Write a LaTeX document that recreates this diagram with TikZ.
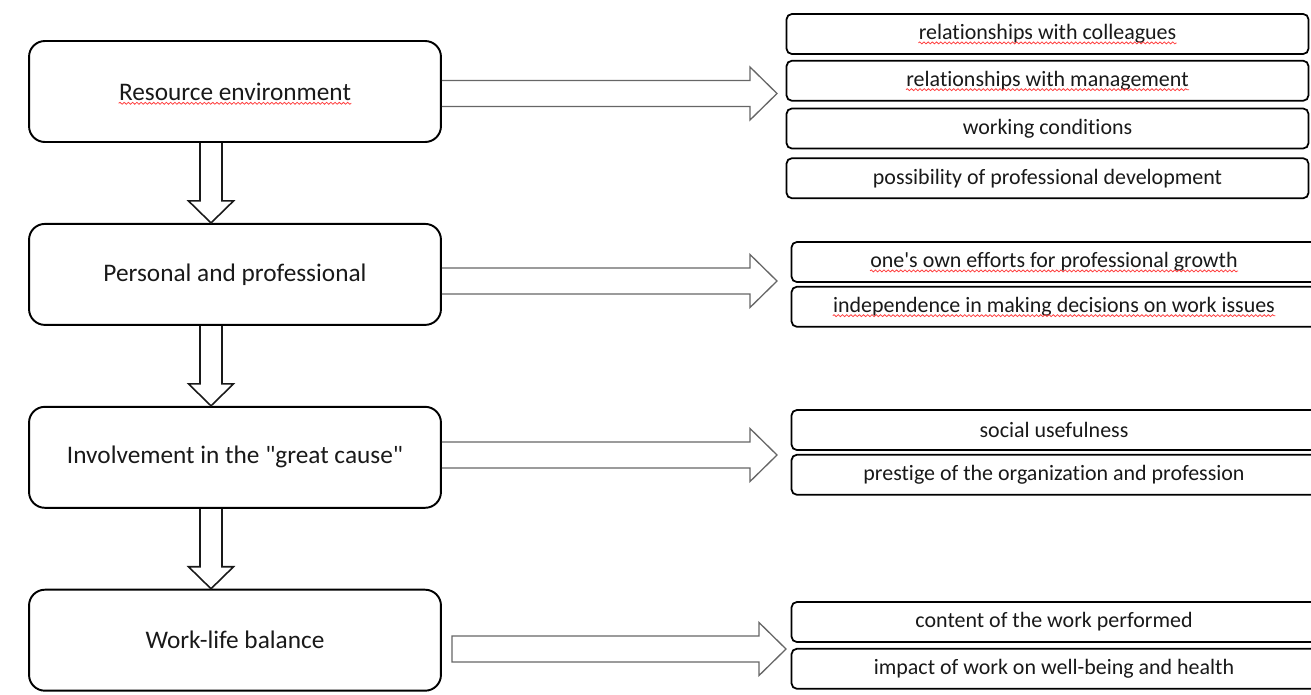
\documentclass[tikz,border=0pt]{standalone}
\usepackage{fontspec}
\setmainfont{Carlito}[Ligatures={TeXOff,NoCommon}]
\usetikzlibrary{positioning,calc,decorations.pathmorphing}
\tikzset{
  stagetext/.style = {inner sep=0pt, font=\fontsize{14.4}{17}\selectfont},
  itemtext/.style = {inner sep=0pt, font=\fontsize{12.5}{15}\selectfont},
  stage/.style = {stagetext, draw=black, line width=1.1pt, rounded corners=9pt, minimum width=8.24cm, minimum height=2.02cm},
  item/.style = {itemtext, draw=black, line width=1pt, rounded corners=3pt, minimum width=10.44cm, minimum height=0.8cm},
  wide/.style = {minimum width=10.5cm},
  wavy/.style = {draw=red!75!white, line width=0.45pt, decorate, decoration={snake, amplitude=0.55pt, segment length=2.4pt}},
  downfat/.style = {draw=black!90, line width=0.9pt, to path={
    ($(\tikztostart)+(-11,0)$) -- ($(\tikztotarget)+(-11,-22)$) -- ($(\tikztotarget)+(-22.5,-22)$)
    -- (\tikztotarget) -- ($(\tikztotarget)+(22.5,-22)$) -- ($(\tikztotarget)+(11,-22)$) -- ($(\tikztostart)+(11,0)$)}},
  rightfat/.style = {draw=black!60, line width=0.75pt, to path={
    ($(\tikztostart)+(0,-13)$) -- ($(\tikztotarget)+(-27,-13)$) -- ($(\tikztotarget)+(-27,-26.5)$)
    -- (\tikztotarget) -- ($(\tikztotarget)+(-27,26.5)$) -- ($(\tikztotarget)+(-27,13)$) -- ($(\tikztostart)+(0,13)$)}}
}
\begin{document}
\begin{tikzpicture}[x=0.02cm, y=-0.02cm, text=black!90]
\useasboundingbox (0,0) rectangle (1311,694);
\clip (0,0) rectangle (1311,694);

% the four stages
\node[stage] (res) at (235,91.5) {};
\node[stagetext] (rest) at (res) {Resource environment};
\node[stage, below=1.6cm of res] (pers) {Personal and professional};
\node[stage, below=1.6cm of pers] (inv) {Involvement in the "great cause"};
\node[stage, below=1.6cm of inv] (wlb) {Work-life balance};

\foreach \a/\b in {res/pers, pers/inv, inv/wlb}
  \draw[downfat] ($(\a.south)+(-24,0)$) to ($(\b.north)+(-24,0)$);

% factors of each stage
\node[item] (col) at (1047.5,34) {};
\node[itemtext] (colt) at (col) {relationships with colleagues};
\node[item, below=0.1cm of col] (mgt) {};
\node[itemtext] (mgtt) at (mgt) {relationships with management};
\node[item, below=0.12cm of mgt] (cond) {working conditions};
\node[item, below=0.16cm of cond] (dev) {possibility of professional development};

\node[item, wide] (eff) at (1054,262) {};
\node[itemtext] (efft) at (eff) {one's own efforts for professional growth};
\node[item, wide, below=0.06cm of eff] (ind) {};
\node[itemtext] (indt) at (ind) {independence in making decisions on work issues};

\node[item, wide] (soc) at (1054,430) {social usefulness};
\node[item, wide, below=0.06cm of soc] (pre) {prestige of the organization and profession};

\node[item, wide] (cnt) at (1054,622) {content of the work performed};
\node[item, wide, below=0.1cm of cnt] (imp) {impact of work on well-being and health};

% spelling marks
\foreach \t in {rest, colt, mgtt, efft, indt}
  \draw[wavy] ([yshift=-1.8pt]\t.base west) -- ([yshift=-1.8pt]\t.base east);

% arrows to the factors
\coordinate (tip1) at (777,93.5);
\coordinate (tip2) at (777,281);
\coordinate (tip3) at (777,455);
\coordinate (tip4) at (786,649);
\draw[rightfat] (res.east |- tip1) to (tip1);
\draw[rightfat] (pers.east |- tip2) to (tip2);
\draw[rightfat] (inv.east |- tip3) to (tip3);
\draw[rightfat] ($(wlb.east |- tip4)+(10,0)$) to (tip4) -- cycle;

\end{tikzpicture}
\end{document}
